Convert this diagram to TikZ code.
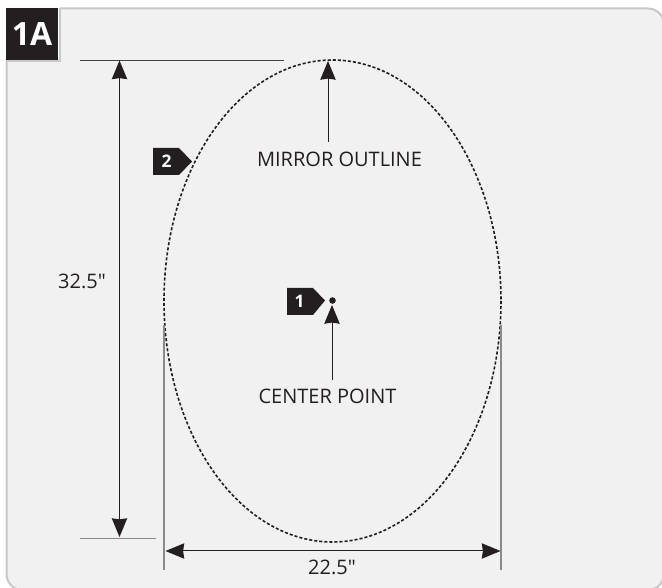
\documentclass[tikz,border=0pt]{standalone}
\usepackage{fontspec}
\setmainfont{Open Sans}[Ligatures=TeXOff]
\usetikzlibrary{arrows.meta,calc}
\definecolor{ink}{HTML}{231F20}
\definecolor{panelfill}{HTML}{F1F1F1}
\definecolor{panelline}{HTML}{C8C8C8}
\definecolor{extgray}{HTML}{8A8A8A}
\tikzset{
  x=0.75pt,y=-0.75pt,
  tipv/.tip={Stealth[length=14pt,width=11.5pt,inset=0.8pt]},
  panel/.style={draw=panelline,line width=1.5pt,fill=panelfill,rounded corners=12pt},
  dimline/.style={draw=ink,line width=0.75pt,tipv-tipv},
  pointer/.style={draw=ink,line width=0.75pt,-tipv},
  extline/.style={draw=extgray,line width=1pt},
  extdark/.style={draw=ink!85,line width=0.75pt},
  label/.style={font=\fontsize{15pt}{17pt}\selectfont,text=ink,inner sep=0pt},
  tagtext/.style={font=\fontsize{13pt}{14pt}\selectfont\bfseries,text=white,inner sep=0pt},
}
\begin{document}
\begin{tikzpicture}
\useasboundingbox (0,0) rectangle (662,588);
\fill[white] (0,0) rectangle (662,588);
\clip (0,0) rectangle (662,588);
\draw[panel] (6.5,8.5) rectangle (664,590);
% 1A box
\fill[white!96!panelfill] (3,4) rectangle (60,62);
\draw[panelline,line width=1.5pt] (59.5,8) -- (59.5,61) -- (6,61);
\fill[ink] (6,8) rectangle (58,60);
\node[inner sep=0pt,text=white,font=\fontsize{24pt}{26pt}\selectfont\bfseries] (title) at (32,34.5) {1A};
% ellipse
\coordinate (ec) at (332.5,301);
\draw[ink,line width=1.2pt,dash pattern=on 2.3pt off 1.5pt] (ec) ellipse [x radius=168.5,y radius=241];
% extension lines
\coordinate (topL) at (80,60.5);
\coordinate (topR) at (284,60.5);
\coordinate (botL) at (80,538.7);
\coordinate (botR) at (156,538.7);
\coordinate (extLa) at (164,325);
\coordinate (extLb) at (164,570);
\coordinate (extRa) at (501,325);
\coordinate (extRb) at (501,570);
\draw[extdark] (topL) -- (topR);
\draw[extline] (botL) -- (botR);
\draw[extline] (extLa) -- (extLb);
\draw[extline] (extRa) -- (extRb);
% dimensions
\coordinate (dT) at (119.5,60.5);
\coordinate (dB) at (119.5,537);
\coordinate (dL) at (165.5,551);
\coordinate (dR) at (500.5,551);
\draw[dimline] (dT) -- (dB);
\draw[dimline] (dL) -- (dR);
\node[label] (h) at (82,281) {32.5"};
\node[label] (w) at (332,567) {22.5"};
% pointers
\node[label] (mo) at (339.5,159) {MIRROR OUTLINE};
\node[label] (cp) at (327.5,396) {CENTER POINT};
\coordinate (moTip) at (328,61);
\coordinate (moTail) at (328,142);
\draw[pointer] (moTail) -- (moTip);
\fill[ink] (332.5,300.5) circle (3.3);
\coordinate (cpTip) at (332,305);
\coordinate (cpTail) at (332,380);
\draw[pointer] (cpTail) -- (cpTip);
% tags
\fill[ink] (287,288) -- (313,288) -- (325,300.5) -- (313,315) -- (287,315) -- cycle;
\node[tagtext] (t1) at (299.5,301) {1};
\fill[ink] (153,148) -- (179,148) -- (192,161.5) -- (179,175) -- (153,175) -- cycle;
\node[tagtext] (t2) at (166.5,161.5) {2};
\end{tikzpicture}
\end{document}
